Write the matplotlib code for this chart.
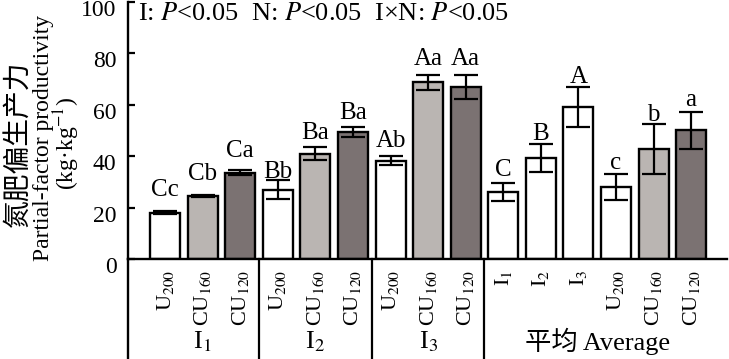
import matplotlib
matplotlib.use("Agg")
import matplotlib.pyplot as plt
import matplotlib.transforms as mtransforms

plt.rcParams['font.family'] = ['Liberation Serif', 'Noto Sans CJK SC']
plt.rcParams['mathtext.fontset'] = 'stix'

# bar labels, values, errors and letters
tick_labels = ['U$_{200}$', 'CU$_{160}$', 'CU$_{120}$',
               'U$_{200}$', 'CU$_{160}$', 'CU$_{120}$',
               'U$_{200}$', 'CU$_{160}$', 'CU$_{120}$',
               'I$_1$', 'I$_2$', 'I$_3$',
               'U$_{200}$', 'CU$_{160}$', 'CU$_{120}$']
values = [18.0, 24.5, 33.6, 27.0, 41.0, 49.3, 38.3, 68.8, 67.0,
          26.0, 39.2, 59.0, 28.0, 42.8, 50.0]
errors = [0.6, 0.5, 1.0, 3.6, 2.4, 2.0, 1.8, 3.0, 4.8,
          3.6, 5.4, 7.8, 5.0, 9.6, 7.2]
letters = ['Cc', 'Cb', 'Ca', 'Bb', 'Ba', 'Ba', 'Ab', 'Aa', 'Aa',
           'C', 'B', 'A', 'c', 'b', 'a']
groups = ['I$_1$', 'I$_2$', 'I$_3$', '平均 Average']

# styling
colors = ['white', '#bab5b2', '#7b7272'] * 3 + ['white'] * 3 + ['white', '#bab5b2', '#7b7272']
letter_gap = [13, 13, 11, 0, 6, 6, 7, 7, 7, 5, 2, 2, 3, 1, 4]  # px above the cap
group_centers = [1, 4, 7, 11.5]
separators = [2.5, 5.5, 8.5]

fig = plt.figure(figsize=(7.29, 3.59), dpi=100)
ax = fig.add_axes([0.175, 0.279, 0.822, 0.715])

x = list(range(len(values)))
ax.bar(x, values, width=0.8, color=colors, edgecolor='black', linewidth=1.7, zorder=2)
ax.errorbar(x, values, yerr=errors, fmt='none', ecolor='black', elinewidth=1.6,
            capsize=8.5, capthick=1.6, zorder=3)

for xi, v, e, t, g in zip(x, values, errors, letters, letter_gap):
    ax.annotate(t, (xi, v + e), xytext=(0, g * 0.72 + 1.5), textcoords='offset points',
                ha='center', va='baseline', fontsize=18)

ax.set_xlim(-1.0, 14.95)
ax.set_ylim(0, 100)
ax.set_yticks([0, 20, 40, 60, 80, 100])
ax.tick_params(axis='y', direction='in', length=5, width=1.6, labelsize=17, pad=8)
down = mtransforms.ScaledTranslation(0, -6 / 100, fig.dpi_scale_trans)
for lab in ax.get_yticklabels():
    lab.set_transform(lab.get_transform() + down)
ax.set_xticks(x)
ax.set_xticklabels(tick_labels, rotation=90, fontsize=16)
ax.tick_params(axis='x', length=0, pad=8)

for s in ['top', 'right']:
    ax.spines[s].set_visible(False)
ax.spines['left'].set_linewidth(1.7)
ax.spines['bottom'].set_linewidth(1.7)

# vertical lines below the axis
trans = mtransforms.blended_transform_factory(ax.transData, ax.transAxes)
for sx in separators:
    ax.plot([sx, sx], [0, -0.4], color='black', lw=1.6, transform=trans, clip_on=False)
ax.plot([-1.0, -1.0], [0, -0.4], color='black', lw=1.7, transform=trans, clip_on=False)

for gx, g in zip(group_centers, groups):
    ax.text(gx, -0.322, g, transform=trans, ha='center', va='center', fontsize=19)

ax.text(0.018, 0.953, 'I: $P$<0.05  N: $P$<0.05  I×N: $P$<0.05', transform=ax.transAxes,
        ha='left', va='center', fontsize=19)

# y label in three lines
fig.text(0.026, 0.60, '氮肥偏生产力', rotation=90, ha='center', va='center', fontsize=20)
fig.text(0.059, 0.615, 'Partial-factor productivity', rotation=90, ha='center', va='center',
         fontsize=17)
fig.text(0.091, 0.60, '(kg·kg$^{-1}$)', rotation=90, ha='center', va='center', fontsize=17)

fig.savefig('out.png', dpi=100)
